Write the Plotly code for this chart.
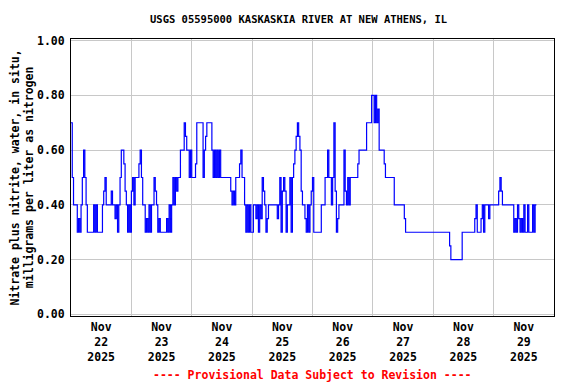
import plotly.graph_objects as go
from datetime import datetime, timedelta

# Nitrate values (hundredths of mg/L) read at 30-minute steps, per day
nov22 = "70 50 40 40 40 30 35 30 40 50 60 50 40 30 30 30 30 30 40 30 40 30 30 30 30 40 45 50 40 40 40 40 45 40 40 35 40 30 40 50 60 60 55 45 40 30 40 30"
nov23 = "45 50 40 50 50 50 55 60 50 40 40 30 35 30 40 30 40 40 50 45 40 30 35 30 30 30 30 30 35 30 40 30 40 50 40 50 45 50 50 60 60 60 70 65 60 60 50 60"
nov24 = "50 50 50 55 70 70 70 70 70 50 60 65 70 70 70 70 60 50 60 50 60 50 60 50 50 50 50 50 50 50 50 45 40 45 40 50 50 50 55 60 50 50 40 30 40 30 40 30"
nov25 = "30 40 40 35 40 30 40 35 50 45 40 30 35 40 40 40 40 40 40 40 35 40 50 30 45 50 45 30 40 40 50 30 50 55 60 65 70 65 60 45 40 40 35 30 40 30 40 45"
nov26 = "50 30 30 30 30 30 30 40 40 40 50 50 60 50 50 40 50 70 45 30 35 40 40 40 40 60 45 40 50 40 50 50 50 50 50 50 55 60 60 60 60 60 60 70 70 70 70 80"
nov27 = "80 70 80 70 75 60 60 60 60 55 50 50 50 50 50 50 50 40 40 40 40 40 40 40 40 35 30 30 30 30 30 30 30 30 30 30 30 30 30 30 30 30 30 30 30 30 30 30"
nov28 = "30 30 30 30 30 30 30 30 30 30 30 30 30 25 20 20 20 20 20 20 20 20 20 30 30 30 30 30 30 30 30 30 30 35 40 30 30 30 35 40 30 40 40 40 35 40 40 40"
nov29 = "40 40 40 40 45 50 45 40 40 40 40 40 40 40 40 40 30 35 30 40 35 30 35 30 40 30 30 40 30 30 30 40 30 40 40"
days = [nov22, nov23, nov24, nov25, nov26, nov27, nov28, nov29]

start = datetime(2025, 11, 22)
step = timedelta(minutes=30)
values = [int(v) / 100 for d in days for v in d.split()]
times = [start + i * step for i in range(len(values))]

day_labels = ["22", "23", "24", "25", "26", "27", "28", "29"]
tick_vals = [start + timedelta(days=i, hours=12) for i in range(len(day_labels))]
tick_text = [f"Nov<br>{d}<br>2025" for d in day_labels]
grid_vals = [start + timedelta(days=i) for i in range(9)]

y_ticks = [0.0, 0.2, 0.4, 0.6, 0.8, 1.0]
y_text = [f"{v:.2f}" for v in y_ticks]

FONT = dict(family="DejaVu Sans Mono", size=11.5, color="black", weight="bold")

fig = go.Figure()
fig.add_trace(go.Scatter(x=times, y=values, mode="lines",
                         line=dict(color="#0000FF", width=1.2, shape="hv"),
                         showlegend=False))

# the page body adds an 8px offset, so the figure is 8px smaller on the top/left
fig.update_layout(
    width=568, height=376,
    margin=dict(l=63, r=22, t=31, b=68),
    plot_bgcolor="white", paper_bgcolor="white",
    font=FONT,
    xaxis=dict(type="date", range=[start, start + timedelta(days=8)],
               tickvals=tick_vals, ticktext=tick_text, showgrid=False,
               ticks="", tickfont=FONT, automargin=False,
               showline=True, linecolor="black", linewidth=1, mirror=True,
               minor=dict(tickvals=grid_vals, showgrid=True, gridcolor="#c8c8c8", gridwidth=1, ticks=""),
               zeroline=False),
    yaxis=dict(range=[-0.006, 1.006], tickvals=y_ticks, ticktext=y_text,
               showgrid=True, gridcolor="#c8c8c8", gridwidth=1,
               ticks="outside", ticklen=3, tickcolor="white", tickfont=FONT,
               showline=True, linecolor="black", linewidth=1, mirror=True,
               zeroline=False, automargin=False),
    annotations=[
        dict(text="USGS 05595000 KASKASKIA RIVER AT NEW ATHENS, IL", xref="paper", yref="paper",
             x=0.47, y=1, yshift=20, xanchor="center", yanchor="middle", showarrow=False,
             font=dict(family="DejaVu Sans Mono", size=10.5, color="black", weight="bold")),
        dict(text="Nitrate plus nitrite, water, in situ,<br>milligrams per liter as nitrogen",
             xref="paper", yref="paper", x=0, y=0.5, xshift=-49, textangle=-90,
             xanchor="center", yanchor="middle", showarrow=False, font=FONT),
        dict(text="---- Provisional Data Subject to Revision ----", xref="paper", yref="paper",
             x=0.5, y=0, yshift=-59, xanchor="center", yanchor="middle", showarrow=False,
             font=dict(family="DejaVu Sans Mono", size=11.5, color="#FF0000", weight="bold")),
    ],
)

fig.write_html("out.html")
